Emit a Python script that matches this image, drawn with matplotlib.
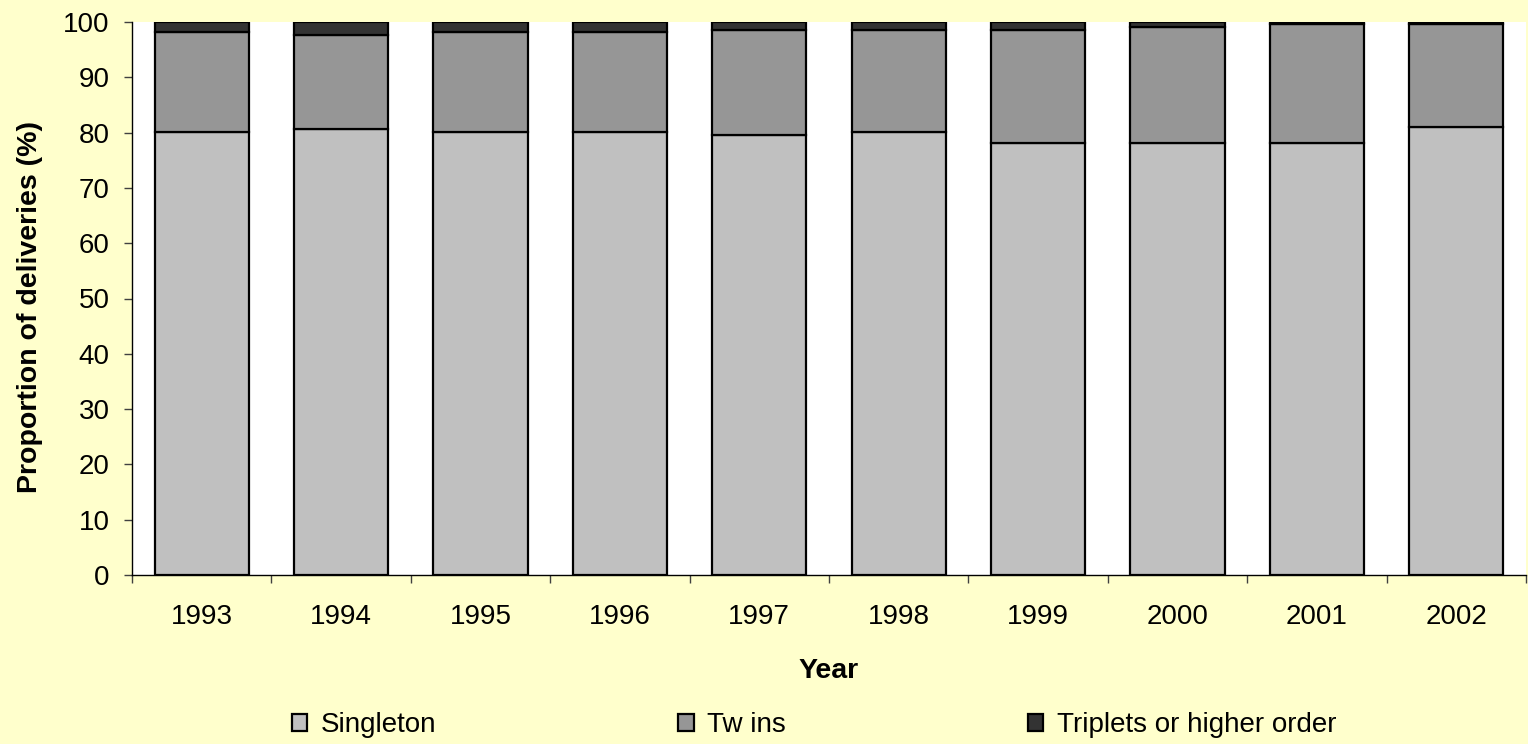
import matplotlib
matplotlib.use("Agg")
import matplotlib.pyplot as plt
from matplotlib.patches import Patch
import numpy as np

years = ["1993", "1994", "1995", "1996", "1997", "1998", "1999", "2000", "2001", "2002"]
singleton = [80.1, 80.6, 80.1, 80.1, 79.6, 80.1, 78.2, 78.2, 78.2, 81.0]
twins = [18.1, 17.0, 18.1, 18.1, 19.0, 18.5, 20.4, 20.9, 21.4, 18.6]
triplets = [1.8, 2.4, 1.8, 1.8, 1.4, 1.4, 1.4, 0.9, 0.4, 0.4]
series_names = ["Singleton", "Tw ins", "Triplets or higher order"]
colors = ["#C0C0C0", "#969696", "#333333"]

plt.rcParams['font.family'] = ['Liberation Sans', 'DejaVu Sans']

fig = plt.figure(figsize=(15.28, 7.44), dpi=100)
fig.patch.set_facecolor("#FFFFCC")
ax = fig.add_axes([132/1528, 169/744, (1526-132)/1528, (575-22)/744])
ax.set_facecolor("white")

x = np.arange(len(years))
w = 0.675
bottom = np.zeros(len(years))
for vals, col in zip([singleton, twins, triplets], colors):
    ax.bar(x, vals, w, bottom=bottom, color=col, edgecolor="black", linewidth=1.6, zorder=3)
    bottom = bottom + np.array(vals)

ax.set_xlim(-0.5, len(years) - 0.5)
ax.set_ylim(0, 100)
ax.set_yticks(np.arange(0, 101, 10))
ax.set_xticks(x)
ax.set_xticklabels(years)
ax.set_xticks(np.arange(-0.5, len(years), 1), minor=True)
ax.tick_params(axis="x", which="major", length=0, pad=21, labelsize=20)
ax.tick_params(axis="x", which="minor", length=6, width=1, color="#404040")
ax.tick_params(axis="y", length=6, width=1, color="#404040", labelsize=20, pad=10)
for s in ["top", "right"]:
    ax.spines[s].set_visible(False)
for s in ["left", "bottom"]:
    ax.spines[s].set_color("black")
    ax.spines[s].set_linewidth(1)

ax.set_ylabel("Proportion of deliveries (%)", fontsize=20.5, fontweight="bold")
ax.yaxis.set_label_coords(-0.0636, 0.484)
ax.set_xlabel("Year", fontsize=20.5, fontweight="bold", labelpad=20)

handles = [Patch(facecolor=c, edgecolor="black", linewidth=1.6) for c in colors]
fig.legend(handles, series_names, loc="center left", bbox_to_anchor=(292/1528, 1 - 725/744), ncol=3,
           frameon=False, fontsize=20, handlelength=0.55, handleheight=0.55, borderpad=0,
           borderaxespad=0, handletextpad=0.5, columnspacing=8.7)

fig.savefig("out.png", dpi=100, facecolor=fig.get_facecolor())
